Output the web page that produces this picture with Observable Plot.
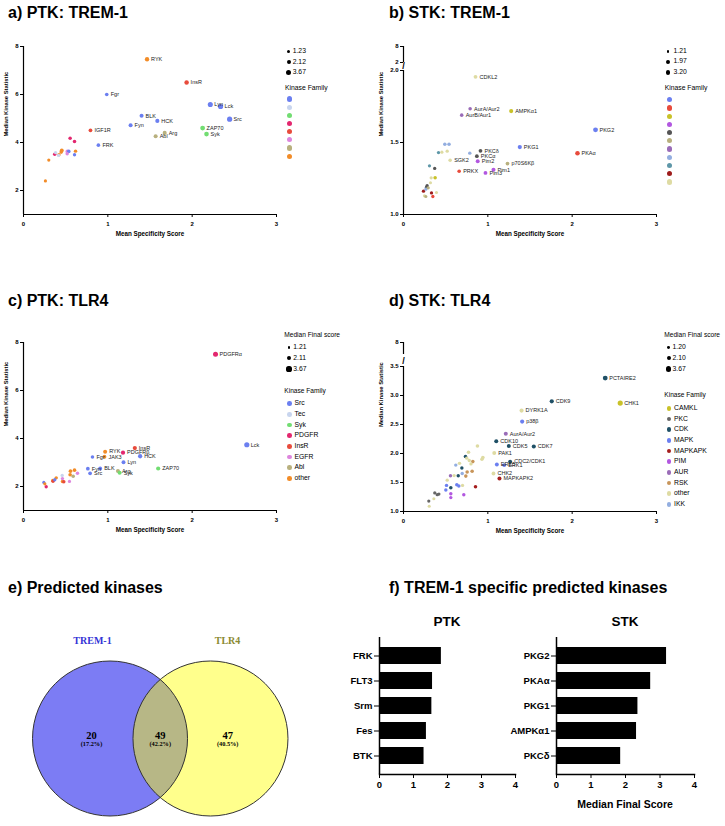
<!DOCTYPE html>
<html><head><meta charset="utf-8">
<script src="https://cdn.jsdelivr.net/npm/d3@7"></script>
<script src="https://cdn.jsdelivr.net/npm/@observablehq/plot@0.6"></script>
<style>
body{margin:0;background:#fff;}
#fig{position:relative;width:725px;height:826px;overflow:hidden;font-family:"Liberation Sans",Arial,sans-serif;color:#000;background:#fff;}
</style></head><body><div id="fig"></div>
<script>
const FONT = '"Liberation Sans", Arial, Helvetica, sans-serif';
const SERIF = '"Liberation Serif", "Times New Roman", serif';

// ---------- Panel a: PTK TREM-1 ----------
const aNames = ["RYK","InsR","Fgr","Lyn","Lck","Src","BLK","HCK","Fyn","IGF1R","ZAP70","Syk","Arg","Abl","FRK"].concat(Array(15).fill(""));
const aX = [1.465,1.934,0.987,2.215,2.337,2.444,1.40,1.587,1.27,0.794,2.124,2.17,1.674,1.567,0.888,
  0.26,0.30,0.37,0.38,0.415,0.42,0.454,0.447,0.52,0.537,0.518,0.553,0.605,0.617,0.605];
const aY = [7.47,6.50,6.00,5.58,5.50,4.97,5.11,4.90,4.72,4.51,4.60,4.35,4.40,4.26,3.89,
  2.40,3.27,3.51,3.58,3.46,3.49,3.67,3.60,3.63,3.63,3.53,4.18,4.04,3.64,3.49];
const aSize = [2.6,2.7,1.8,3.5,3.6,3.67,2.2,2.3,2.2,1.9,3.2,2.9,2.3,2.2,1.8,
  1.4,1.4,1.6,1.5,1.5,1.6,2.1,1.8,1.9,1.8,1.6,1.7,1.7,1.6,1.5];
const aFam = ["other","InsR","Src","Src","Src","Src","Src","Src","Src","InsR","Syk","Syk","Abl","Abl","Src",
  "other","other","PDGFR","Tec","Tec","other","other","other","EGFR","Src","EGFR","PDGFR","PDGFR","other","Src"];
const aSizeLegend = [1.23, 2.12, 3.67];

// ---------- Panel b: STK TREM-1 ----------
const bNames = ["CDKL2","AurA/Aur2","AurB/Aur1","AMPKα1","PKG2","PKG1","PKAα","PKCδ","PKCα","Pim2","p70S6Kβ","SGK2","PRKX","Pim1","Pim3"].concat(Array(21).fill(""));
const bX = [0.854,0.79,0.69,1.277,2.277,1.379,2.063,0.913,0.87,0.88,1.233,0.553,0.66,1.067,0.972,
  0.49,0.54,0.415,0.455,0.518,0.786,0.308,0.37,0.375,0.328,0.32,0.28,0.273,0.265,0.293,0.237,0.249,0.265,0.332,0.348,0.391];
const bY = [1.956,1.734,1.69,1.718,1.588,1.468,1.426,1.442,1.405,1.37,1.354,1.377,1.30,1.31,1.289,
  1.488,1.488,1.43,1.433,1.44,1.426,1.338,1.32,1.255,1.255,1.22,1.20,1.19,1.176,1.185,1.162,1.13,1.125,1.15,1.125,1.153];
const bSize = [2.0,1.7,1.7,2.3,3.2,2.4,2.8,1.9,1.9,2.1,1.9,1.7,1.8,2.2,2.0,
  1.7,1.7,1.5,1.4,1.5,1.6,1.4,1.5,1.7,1.4,1.3,1.5,1.5,1.4,1.4,1.5,1.4,1.3,1.5,1.5,1.3];
const bFam = ["other","AUR","AUR","CAMKL","PKG","PKG","PKA","PKC","PKC","PIM","RSK","other","PKA","PIM","PIM",
  "IKK","IKK","DYRK","other","other","IKK","DYRK","PKC","CAMKL","other","other","PKC","PKC","IKK","RSK","MAPKAPK","other","RSK","MAPKAPK","PKA","other"];
const bSizeLegend = [1.21, 1.97, 3.20];

// ---------- Panel c: PTK TLR4 ----------
const cNames = ["PDGFRα","Lck","InsR","RYK","PDGFRβ","HCK","Fgr","JAK3","Lyn","ZAP70","Fyn","BLK","Src","Arg","Syk"].concat(Array(17).fill(""));
const cX = [2.277,2.648,1.32,0.968,1.18,1.383,0.818,0.96,1.186,1.597,0.763,0.909,0.79,1.12,1.14,
  0.557,0.605,0.553,0.589,0.64,0.459,0.462,0.388,0.348,0.35,0.371,0.462,0.478,0.545,0.241,0.253,0.269];
const cY = [7.51,3.74,3.60,3.45,3.41,3.26,3.23,3.24,3.01,2.75,2.74,2.75,2.55,2.65,2.57,
  2.64,2.68,2.49,2.43,2.55,2.46,2.33,2.36,2.25,2.22,2.28,2.21,2.20,2.21,2.17,2.11,1.99];
const cSize = [3.4,3.67,2.4,2.2,2.4,2.5,1.7,2.0,2.1,2.4,1.9,2.1,1.9,2.2,2.2,
  1.8,1.8,1.8,1.7,1.6,1.5,1.5,1.6,1.7,1.6,1.5,1.6,1.6,1.4,1.4,1.4,1.5];
const cFam = ["PDGFR","Src","InsR","other","PDGFR","Src","Src","other","Src","Syk","Src","Src","Src","Abl","Syk",
  "other","other","other","Abl","EGFR","Tec","EGFR","other","other","InsR","Src","other","InsR","EGFR","Src","other","PDGFR"];
const cSizeLegend = [1.21, 2.11, 3.67];

// ---------- Panel d: STK TLR4 ----------
const dNames = ["PCTAIRE2","CHK1","CDK9","DYRK1A","p38β","AurA/Aur2","CDK10","CDK5","CDK7","PAK1","CDC2/CDK1","ERK5","ERK1","CHK2","MAPKAPK2"].concat(Array(36).fill(""));
const dX = [2.392,2.57,1.758,1.40,1.407,1.213,1.10,1.249,1.545,1.076,1.265,1.107,1.194,1.067,1.138,
  0.877,0.771,0.941,0.93,0.735,0.75,0.78,0.80,0.822,0.62,0.664,0.692,0.755,0.814,0.739,0.696,0.557,0.60,0.649,0.518,
  0.51,0.632,0.656,0.70,0.854,0.561,0.502,0.561,0.561,0.715,0.371,0.40,0.42,0.30,0.305,0.36];
const dY = [3.30,2.87,2.90,2.74,2.55,2.34,2.21,2.13,2.12,2.01,1.86,1.81,1.80,1.655,1.57,
  2.13,2.02,1.93,1.90,1.95,1.92,1.88,1.82,1.86,1.80,1.83,1.75,1.68,1.695,1.61,1.655,1.615,1.62,1.615,1.54,
  1.45,1.46,1.44,1.45,1.425,1.41,1.37,1.305,1.24,1.29,1.32,1.29,1.30,1.18,1.09,1.22];
const dSize = [3.2,3.67,2.4,2.3,2.3,2.2,2.2,2.2,2.3,2.1,2.1,2.1,2.0,2.0,2.2,
  1.8,1.7,1.8,1.7,1.7,1.6,1.6,1.5,1.7,1.6,1.6,1.6,1.7,1.7,1.7,1.6,1.6,1.5,1.6,1.5,
  1.6,1.7,1.6,1.5,1.7,1.7,1.6,1.6,1.5,1.6,1.5,1.5,1.4,1.4,1.3,1.3];
const dFam = ["CDK","CAMKL","CDK","other","MAPK","AUR","CDK","CDK","CDK","other","CDK","MAPK","MAPK","other","MAPKAPK",
  "other","other","other","other","CDK","other","other","other","RSK","IKK","other","CDK","RSK","RSK","RSK","IKK","AUR","other","CDK","other",
  "MAPK","MAPK","MAPK","other","MAPKAPK","CDK","MAPK","PIM","PIM","PIM","PKC","PKC","PKC","PKC","other","other"];
const dSizeLegend = [1.20, 2.10, 3.67];

// ---------- Families ----------
const ptkFamilies = ["Src","Tec","Syk","PDGFR","InsR","EGFR","Abl","other"];
const ptkColors = ["#6b7ff0","#c8d5ee","#72dd72","#e3276f","#e84b3c","#dd85dd","#b8b07e","#f28c28"];
const bFamilies = ["PKG","PKA","CAMKL","PIM","PKC","RSK","AUR","IKK","DYRK","MAPKAPK","other"];
const bColors = ["#6b7ff0","#e84b3c","#c9c229","#b257e0","#555555","#b8b07e","#9a6cb8","#93aee0","#5e97a8","#9e1c1c","#dedba3"];
const dFamilies = ["CAMKL","PKC","CDK","MAPK","MAPKAPK","PIM","AUR","RSK","other","IKK"];
const dColors = ["#c9c229","#666666","#1f5066","#6b7ff0","#a51d1d","#b257e0","#9a6cb8","#c8955a","#dedba3","#93aee0"];

// ---------- Venn ----------
const vennSets = ["TREM-1","TLR4"];
const vennCounts = [20, 49, 47];
const vennPct = ["(17.2%)","(42.2%)","(40.5%)"];

// ---------- Bars ----------
const ptkBarNames = ["FRK","FLT3","Srm","Fes","BTK"];
const ptkBarScores = [1.82,1.56,1.54,1.38,1.31];
const stkBarNames = ["PKG2","PKAα","PKG1","AMPKα1","PKCδ"];
const stkBarScores = [3.19,2.73,2.36,2.32,1.86];

// ================= rendering =================
const fig = document.getElementById("fig");
const rScale = d3.scaleSqrt().domain([0, 3.67]).range([0, 2.6]);
const plain = d => String(d);

function place(node, left, top, w) {
  const wrap = document.createElement("div");
  wrap.style.position = "absolute"; wrap.style.left = left + "px"; wrap.style.top = top + "px";
  if (w) wrap.style.width = w + "px";
  wrap.appendChild(node); fig.appendChild(wrap);
}
function label(txt, x, y, size, o = {}) {
  const d = document.createElement("div");
  d.textContent = txt;
  Object.assign(d.style, {position: "absolute", left: x + "px", top: (y - size / 2) + "px", fontSize: size + "px",
    lineHeight: size + "px", whiteSpace: "nowrap", fontWeight: o.weight || "normal", fontFamily: o.family || FONT,
    color: o.color || "#000"});
  if (o.anchor === "middle") d.style.transform = "translateX(-50%)";
  fig.appendChild(d);
}
function dot(x, y, r, color) {
  const d = document.createElement("div");
  Object.assign(d.style, {position: "absolute", left: (x - r) + "px", top: (y - r) + "px", width: 2 * r + "px",
    height: 2 * r + "px", borderRadius: "50%", background: color});
  fig.appendChild(d);
}

function scatter(cfg) {
  const data = cfg.names.map((n, i) => ({name: n, x: cfg.x[i], y: cfg.y[i], s: cfg.size[i], fam: cfg.fam[i]}));
  const fmt = cfg.yLabels ? (v => cfg.yLabels[cfg.yTicks.indexOf(v)]) : plain;
  const marks = [
    Plot.ruleX(cfg.segments, {x: () => 0, y1: d => d[0], y2: d => d[1], strokeWidth: 1.2}),
    Plot.ruleY([cfg.yDomain[0]], {strokeWidth: 1.2}),
    Plot.dot(data, {x: "x", y: "y", r: "s", fill: "fam"}),
    Plot.text(data.filter(d => d.name), {x: "x", y: "y", text: "name", dx: 4, textAnchor: "start",
      fontSize: 5.5, fontWeight: "normal", fill: "#222"}),
    Plot.text(["Mean Specificity Score"], {frameAnchor: "bottom", dy: 21, fontSize: 6.3}),
    Plot.text(["Median Kinase Statistic"], {frameAnchor: "left", dx: cfg.ytDx, dy: cfg.ytDy, rotate: -90, fontSize: 5.8})
  ];
  if (cfg.breakY) marks.push(Plot.text([cfg.breakY], {x: () => 0, y: d => d, text: () => "/", fontSize: 9}));
  return Plot.plot({
    width: 290, height: cfg.height, marginLeft: 23, marginRight: 14, marginTop: cfg.mt, marginBottom: cfg.mb,
    style: {fontFamily: FONT, fontSize: "6px", fontWeight: "bold", background: "transparent", overflow: "visible", maxWidth: "none"},
    x: {domain: [0, 3], ticks: [0, 1, 2, 3], tickFormat: plain, tickSize: 3, tickPadding: 4, label: null},
    y: {domain: cfg.yDomain, ticks: cfg.yTicks, tickFormat: fmt, tickSize: 3, tickPadding: 2, label: null},
    r: {type: "sqrt", domain: [0, 3.67], range: [0, 2.6]},
    color: {domain: cfg.famDomain, range: cfg.famColors},
    marks
  });
}

// titles
label("a) PTK: TREM-1", 8, 12.5, 16, {weight: "bold"});
label("b) STK: TREM-1", 389, 12.5, 16, {weight: "bold"});
label("c) PTK: TLR4", 8, 300.5, 16, {weight: "bold"});
label("d) STK: TLR4", 389, 300.5, 16, {weight: "bold"});
label("e) Predicted kinases", 8, 588, 16, {weight: "bold"});
label("f) TREM-1 specific predicted kinases", 389, 588, 16, {weight: "bold"});

// a
place(scatter({names: aNames, x: aX, y: aY, size: aSize, fam: aFam, famDomain: ptkFamilies, famColors: ptkColors,
  yDomain: [1, 8], yTicks: [2, 4, 6, 8], segments: [[1, 8]], height: 210, mt: 10, mb: 32, ytDx: -17, ytDy: 6}), 0, 36, 290);
// b
place(scatter({names: bNames, x: bX, y: bY, size: bSize, fam: bFam, famDomain: bFamilies, famColors: bColors,
  yDomain: [1, 2.1667], yTicks: [1, 1.5, 2, 2.0556, 2.1667], yLabels: ["1.0", "1.5", "2.0", "2", "8"],
  segments: [[1, 2], [2.0556, 2.1667]], breakY: 2.028, height: 210, mt: 10, mb: 32, ytDx: -22, ytDy: 6}), 380, 36, 290);
// c
place(scatter({names: cNames, x: cX, y: cY, size: cSize, fam: cFam, famDomain: ptkFamilies, famColors: ptkColors,
  yDomain: [1, 8], yTicks: [2, 4, 6, 8], segments: [[1, 8]], height: 245, mt: 42, mb: 35, ytDx: -17, ytDy: 0}), 0, 300, 290);
// d
place(scatter({names: dNames, x: dX, y: dY, size: dSize, fam: dFam, famDomain: dFamilies, famColors: dColors,
  yDomain: [1, 3.914], yTicks: [1, 1.5, 2, 2.5, 3, 3.5, 3.914], yLabels: ["1.0", "1.5", "2.0", "2.5", "3.0", "3.5", "8"],
  segments: [[1, 3.5], [3.707, 3.914]], breakY: 3.6, height: 245, mt: 42, mb: 34, ytDx: -22, ytDy: 0}), 380, 300, 290);

// legends
function sizeLegend(vals, dotX, textX, y0, step, fs) {
  vals.forEach((v, i) => { dot(dotX, y0 + i * step, rScale(v), "#000"); label(v.toFixed(2), textX, y0 + i * step, fs); });
}
function famLegend(colors, names, dotX, textX, y0, step, r, fs) {
  colors.forEach((c, i) => { dot(dotX, y0 + i * step, r, c); if (names) label(names[i], textX, y0 + i * step, fs); });
}
// a
sizeLegend(aSizeLegend, 288.7, 292.7, 51.7, 10.3, 6.8);
label("Kinase Family", 285, 88, 6.8);
famLegend(ptkColors, null, 289.3, 0, 99, 8.18, 2.6, 7);
// b
sizeLegend(bSizeLegend, 668, 673.5, 51.3, 10.5, 6.8);
label("Kinase Family", 664.7, 88.7, 6.8);
famLegend(bColors, null, 669.3, 0, 99.7, 8.23, 2.6, 7);
// c
label("Median Final score", 284.3, 335, 6.6);
sizeLegend(cSizeLegend, 289, 293.3, 347.7, 10.65, 6.8);
label("Kinase Family", 284.3, 391, 6.6);
famLegend(ptkColors, ptkFamilies, 289.3, 294.5, 403.7, 10.66, 2.3, 6.8);
// d
label("Median Final score", 664.3, 335, 6.6);
sizeLegend(dSizeLegend, 668.7, 672.5, 347.7, 10.65, 6.8);
label("Kinase Family", 664.3, 395.7, 6.6);
famLegend(dColors, dFamilies, 669, 674, 408.3, 10.66, 2.3, 6.8);

// e Venn
const circles = [{cx: -0.648, cy: 0, set: vennSets[0]}, {cx: 0.648, cy: 0, set: vennSets[1]}];
const regions = [{x: -0.887, n: vennCounts[0], p: vennPct[0]}, {x: 0, n: vennCounts[1], p: vennPct[1]}, {x: 0.87, n: vennCounts[2], p: vennPct[2]}];
const setLabels = [{x: -0.874, text: vennSets[0], c: "#3434d6"}, {x: 0.868, text: vennSets[1], c: "#8a8a32"}];
const venn = Plot.plot({
  width: 320, height: 206, margin: 0,
  style: {background: "transparent", overflow: "visible", maxWidth: "none"},
  x: {domain: [-1, 1], range: [82.25, 237.25], axis: null},
  y: {domain: [-1, 1], range: [195.5, 40.5], axis: null},
  marks: [
    Plot.dot([circles[0]], {x: "cx", y: "cy", r: 77.5, fill: "#7c7cf4"}),
    Plot.dot([circles[1]], {x: "cx", y: "cy", r: 77.5, fill: "#ffff00", fillOpacity: 0.45}),
    Plot.dot(circles, {x: "cx", y: "cy", r: 77.5, stroke: "#333", strokeWidth: 1}),
    Plot.text(setLabels, {x: "x", y: () => 1.265, text: "text", fill: "c", fontFamily: SERIF, fontWeight: "bold", fontSize: 10}),
    Plot.text(regions, {x: "x", y: () => 0.035, text: d => String(d.n), fontFamily: SERIF, fontWeight: "bold", fontSize: 10.5}),
    Plot.text(regions, {x: "x", y: () => -0.065, text: "p", fontFamily: SERIF, fontWeight: "bold", fontSize: 6.3})
  ]
});
place(venn, 0, 620, 320);

// f bars
function bars(names, vals, ml, mr, w) {
  const data = names.map((n, i) => ({n, v: vals[i]}));
  return Plot.plot({
    width: w, height: 196, marginLeft: ml, marginRight: mr, marginTop: 7, marginBottom: 52,
    style: {fontFamily: FONT, fontSize: "9.5px", fontWeight: "bold", background: "transparent", overflow: "visible", maxWidth: "none"},
    x: {domain: [0, 4], ticks: [0, 1, 2, 3, 4], tickFormat: plain, tickSize: 4, tickPadding: 3, label: null},
    y: {domain: names, paddingInner: 0.33, paddingOuter: 0.35, tickSize: 5, tickPadding: 2, label: null},
    marks: [
      Plot.barX(data, {x: "v", y: "n", fill: "#000"}),
      Plot.ruleX([0], {strokeWidth: 1.5}),
      Plot.frame({anchor: "bottom", strokeWidth: 1.5})
    ]
  });
}
place(bars(ptkBarNames, ptkBarScores, 89, 10, 235), 290, 630, 235);
place(bars(stkBarNames, stkBarScores, 86, 11, 235), 470, 630, 235);
label("PTK", 447, 622, 13.5, {weight: "bold", anchor: "middle"});
label("STK", 625, 622, 13.5, {weight: "bold", anchor: "middle"});
label("Median Final Score", 625, 804, 10.5, {weight: "bold", anchor: "middle"});
</script></body></html>
